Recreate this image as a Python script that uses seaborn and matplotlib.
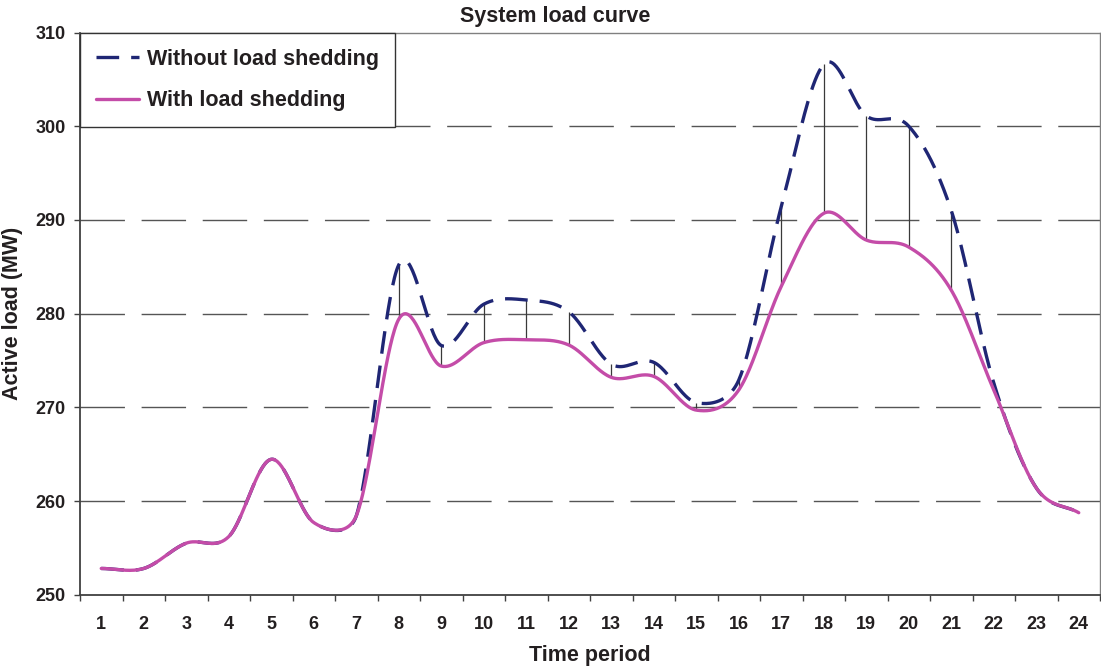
import numpy as np
import pandas as pd
import matplotlib
matplotlib.use("Agg")
import matplotlib.pyplot as plt
import seaborn as sns
from matplotlib.ticker import FixedLocator, NullFormatter

# ---- data -------------------------------------------------------------
periods = list(range(1, 25))
load_without = [252.8, 252.8, 255.5, 256.2, 264.45, 257.7, 258.4, 285.2,
                276.6, 281.0, 281.45, 280.2, 274.6, 274.8, 270.5, 272.9,
                291.4, 306.6, 301.1, 300.0, 291.0, 272.6, 261.4, 258.75]
load_with = [252.8, 252.8, 255.5, 256.2, 264.45, 257.7, 258.4, 279.4,
             274.4, 276.9, 277.2, 276.65, 273.2, 273.3, 269.7, 271.85,
             282.9, 290.7, 287.85, 287.1, 282.5, 271.85, 261.4, 258.75]
series_names = ["Without load shedding", "With load shedding"]
y_ticks = [250, 260, 270, 280, 290, 300, 310]

title_text = "System load curve"
x_label = "Time period"
y_label = "Active load (MW)"

# ---- style ------------------------------------------------------------
sns.set_style("white")
plt.rcParams["font.family"] = ["Liberation Sans", "DejaVu Sans"]
plt.rcParams["font.weight"] = "bold"
text_color = "#231F20"
navy = "#1F2674"
pink = "#C44CA8"

# screen scale of one period / one MW, so the smoothing works in the
# same proportions as the drawn chart
PX_PER_PERIOD = 42.5
PX_PER_MW = 9.37


def smooth(x, y, steps=40):
    """Cubic Bezier smoothing through every point; the handle length is
    a sixth of the neighbour chord, capped at half the segment."""
    P = np.column_stack([np.asarray(x, float) * PX_PER_PERIOD,
                         np.asarray(y, float) * PX_PER_MW])
    n = len(P)
    tangents = np.zeros_like(P)
    for i in range(n):
        lo, hi = max(i - 1, 0), min(i + 1, n - 1)
        tangents[i] = P[hi] - P[lo]
        if i in (0, n - 1):
            tangents[i] *= 2.0  # one-sided difference at the ends
    t = np.linspace(0, 1, steps, endpoint=False)[:, None]
    pts = []
    for i in range(n - 1):
        seg = np.linalg.norm(P[i + 1] - P[i])
        h0 = tangents[i] / 6.0
        h1 = tangents[i + 1] / 6.0
        for h in (h0, h1):
            ln = np.linalg.norm(h)
            if ln > seg / 2.0:
                h *= (seg / 2.0) / ln
        c0 = P[i] + h0
        c1 = P[i + 1] - h1
        b = ((1 - t) ** 3 * P[i] + 3 * (1 - t) ** 2 * t * c0
             + 3 * (1 - t) * t ** 2 * c1 + t ** 3 * P[i + 1])
        pts.append(b)
    pts.append(P[-1:])
    pts = np.vstack(pts)
    return pts[:, 0] / PX_PER_PERIOD, pts[:, 1] / PX_PER_MW


frames = []
for name, vals in zip(series_names, [load_without, load_with]):
    sx, sy = smooth(periods, vals)
    frames.append(pd.DataFrame({"period": sx, "load": sy, "series": name}))
curves = pd.concat(frames, ignore_index=True)

fig = plt.figure(figsize=(11.01, 6.68), dpi=100)
W, H = 1101, 668
ax = fig.add_axes([80 / W, 1 - 594.7 / H, 1020 / W, (594.7 - 32.5) / H])

# dashed horizontal gridlines
for yv in y_ticks[1:-1]:
    ax.axhline(yv, color="#555555", lw=1.0, linestyle=(0, (32, 12)), zorder=1)

# high-low lines between the two series
diff_idx = [i for i in range(len(periods)) if load_without[i] != load_with[i]]
ax.vlines([periods[i] for i in diff_idx],
          [load_with[i] for i in diff_idx],
          [load_without[i] for i in diff_idx],
          colors="#3a3a3a", lw=0.9, zorder=2)

sns.lineplot(data=curves, x="period", y="load", hue="series", style="series",
             units="series", hue_order=series_names, style_order=series_names,
             palette={series_names[0]: navy, series_names[1]: pink},
             dashes={series_names[0]: (6.8, 3.6), series_names[1]: ""},
             linewidth=2.4, sort=False, estimator=None, ax=ax, zorder=3,
             legend=True)

ax.set_xlim(0.5, 24.5)
ax.set_ylim(250, 310)

# category axis: tick marks between categories, labels at centres
ax.xaxis.set_major_locator(FixedLocator(np.arange(0.5, 25, 1)))
ax.xaxis.set_major_formatter(NullFormatter())
ax.xaxis.set_minor_locator(FixedLocator(periods))
ax.set_xticklabels([str(p) for p in periods], minor=True)
ax.tick_params(axis="x", which="major", direction="out", length=4.5,
               width=1, color="#404040", bottom=True)
ax.tick_params(axis="x", which="minor", length=0, pad=15,
               labelsize=13, labelcolor=text_color)
ax.set_yticks(y_ticks)
ax.tick_params(axis="y", direction="out", length=4.5, width=1,
               color="#404040", left=True, pad=6, labelsize=13,
               labelcolor=text_color)
for lab in ax.get_xticklabels(minor=True) + ax.get_yticklabels():
    lab.set_fontweight("bold")

for side in ["left", "bottom"]:
    ax.spines[side].set_color("#404040")
    ax.spines[side].set_linewidth(1.3)
for side in ["top", "right"]:
    ax.spines[side].set_color("#808080")
    ax.spines[side].set_linewidth(1.0)

ax.set_xlabel(x_label, fontsize=15.5, fontweight="bold", color=text_color)
ax.xaxis.set_label_coords(0.5, -0.089)
ax.set_ylabel(y_label, fontsize=15.5, fontweight="bold", color=text_color)
ax.yaxis.set_label_coords(-0.056, 0.5)

fig.text(555 / W, 1 - 22 / H, title_text, ha="center", va="baseline",
         fontsize=15.5, fontweight="bold", color=text_color)

handles, labels = ax.get_legend_handles_labels()
leg = ax.legend(handles, labels, loc="upper left", bbox_to_anchor=(0, 1),
                borderaxespad=0, fontsize=15.5, frameon=True, fancybox=False,
                edgecolor="#333333", framealpha=1, handlelength=2.0,
                handletextpad=0.35, labelspacing=0.95, borderpad=0.75)
leg.get_frame().set_linewidth(1.0)
for t in leg.get_texts():
    t.set_fontweight("bold")
    t.set_color(text_color)
leg.set_zorder(5)

fig.savefig("out.png", dpi=100)
